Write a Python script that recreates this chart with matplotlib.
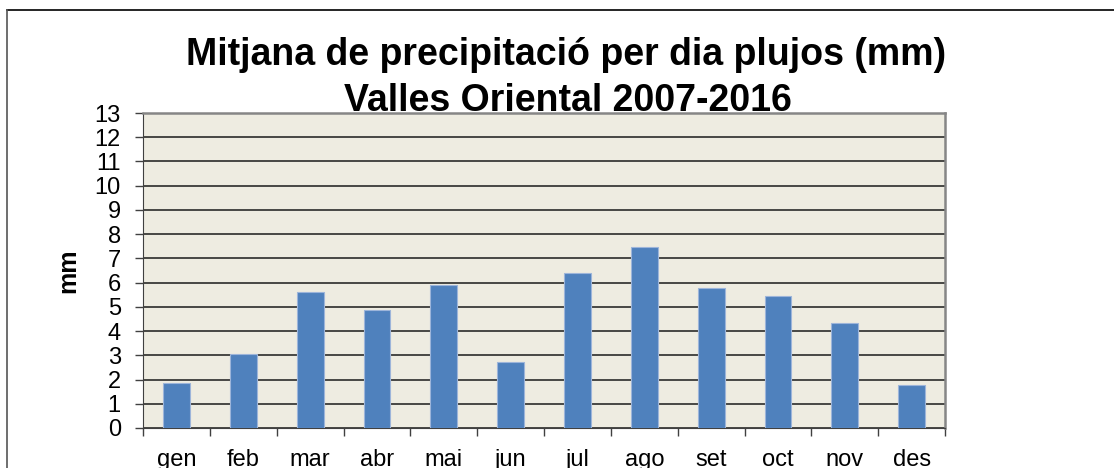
import numpy as np
import matplotlib.pyplot as plt
from matplotlib.lines import Line2D

plt.rcParams['font.family'] = ['Liberation Sans', 'DejaVu Sans']

# monthly data
months = ['gen', 'feb', 'mar', 'abr', 'mai', 'jun', 'jul', 'ago', 'set', 'oct', 'nov', 'des']
rain = [1.87, 3.06, 5.6, 4.88, 5.91, 2.74, 6.4, 7.47, 5.76, 5.45, 4.33, 1.79]
yticks = list(range(0, 14))

fig = plt.figure(figsize=(11.14, 4.68), dpi=100)
ax = fig.add_axes([0.1284, 0.0855, 0.7200, 0.6730])
ax.set_facecolor('#EEECE1')

x = np.arange(len(months))
ax.bar(x, rain, width=0.4, color='#4F81BD', edgecolor='#9DB5DA', linewidth=0.8, zorder=3)

ax.set_xlim(-0.5, len(months) - 0.5)
ax.set_ylim(0, 13)
ax.set_yticks(yticks)
ax.yaxis.grid(True, color='#1a1a1a', linewidth=1.1, zorder=1)
ax.tick_params(axis='y', length=6, width=1, color='#404040', labelsize=17, pad=10)

# labels at centres, tick marks between categories
ax.set_xticks(x)
ax.set_xticklabels(months)
ax.set_xticks(np.arange(-0.5, len(months)), minor=True)
ax.tick_params(axis='x', which='major', length=0, labelsize=17, pad=15)
ax.tick_params(axis='x', which='minor', length=5.5, width=1, color='#404040')

for s in ['top', 'right']:
    ax.spines[s].set_color('#868686')
    ax.spines[s].set_linewidth(1.8)
ax.spines['left'].set_color('#404040')
ax.spines['bottom'].set_color('#404040')

ax.set_ylabel('mm', fontsize=18, fontweight='bold', labelpad=10)

fig.text(0.5085, 1 - 65 / 468, 'Mitjana de precipitació per dia plujos (mm)',
         ha='center', va='baseline', fontsize=27, fontweight='bold')
fig.text(0.5095, 1 - 111 / 468, 'Valles Oriental 2007-2016',
         ha='center', va='baseline', fontsize=27, fontweight='bold')

# outer chart frame (only top and left edges visible)
fig.add_artist(Line2D([7 / 1114, 1.0], [1 - 10 / 468, 1 - 10 / 468], color='black', linewidth=1.2))
fig.add_artist(Line2D([7 / 1114, 7 / 1114], [0.0, 1 - 10 / 468], color='#555555', linewidth=1.2))

fig.savefig('out.png', dpi=100)
